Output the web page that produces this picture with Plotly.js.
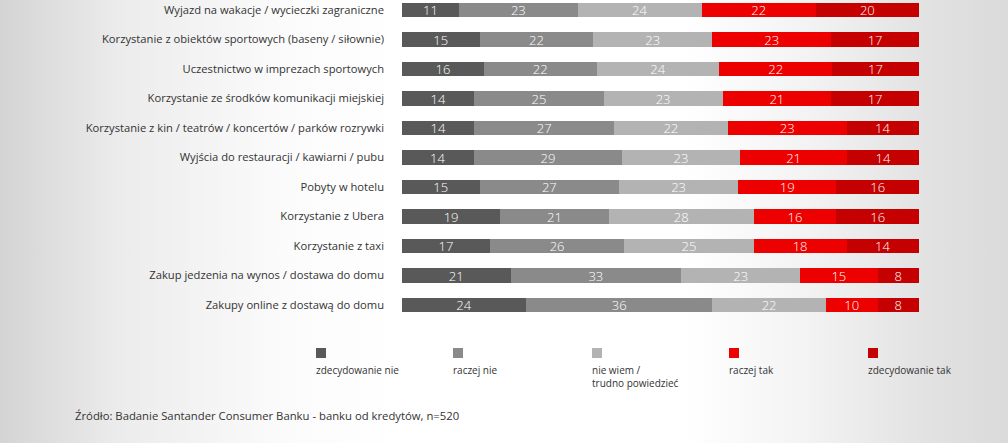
<!DOCTYPE html>
<html>
<head>
<meta charset="utf-8">
<script src="https://cdn.plot.ly/plotly-3.0.1.min.js"></script>
<style>
html,body{margin:0;padding:0;}
body{width:1008px;height:443px;overflow:hidden;
background:linear-gradient(to right,#d4d4d4 0%,#ececec 12%,#fbfbfb 28%,#ffffff 40%,#ffffff 68%,#f3f3f3 80%,#e2e2e2 92%,#dadada 100%);}
#chart{width:1008px;height:443px;}
</style>
</head>
<body>
<div id="chart"></div>
<script>
const categories = [
  "Wyjazd na wakacje / wycieczki zagraniczne",
  "Korzystanie z obiektów sportowych (baseny / siłownie)",
  "Uczestnictwo w imprezach sportowych",
  "Korzystanie ze środków komunikacji miejskiej",
  "Korzystanie z kin / teatrów / koncertów / parków rozrywki",
  "Wyjścia do restauracji / kawiarni / pubu",
  "Pobyty w hotelu",
  "Korzystanie z Ubera",
  "Korzystanie z taxi",
  "Zakup jedzenia na wynos / dostawa do domu",
  "Zakupy online z dostawą do domu"
];
const seriesNames = ["zdecydowanie nie", "raczej nie", "nie wiem /<br>trudno powiedzieć", "raczej tak", "zdecydowanie tak"];
const zdecydowanieNie = [11, 15, 16, 14, 14, 14, 15, 19, 17, 21, 24];
const raczejNie       = [23, 22, 22, 25, 27, 29, 27, 21, 26, 33, 36];
const nieWiem         = [24, 23, 24, 23, 22, 23, 23, 28, 25, 23, 22];
const raczejTak       = [22, 23, 22, 21, 23, 21, 19, 16, 18, 15, 10];
const zdecydowanieTak = [20, 17, 17, 17, 14, 14, 16, 16, 14, 8, 8];
const sourceNote = "Źródło: Badanie Santander Consumer Banku - banku od kredytów, n=520";

const seriesValues = [zdecydowanieNie, raczejNie, nieWiem, raczejTak, zdecydowanieTak];
const colors = ["#595959", "#8a8a8a", "#b3b3b3", "#ec0000", "#c40000"];
const FONT = "Open Sans, DejaVu Sans, sans-serif";

const traces = seriesValues.map((vals, i) => ({
  type: "bar",
  orientation: "h",
  name: seriesNames[i],
  y: categories,
  x: vals,
  text: vals.map(String),
  textposition: "inside",
  insidetextanchor: "middle",
  textangle: 0,
  constraintext: "none",
  cliponaxis: false,
  textfont: {color: "#ffffff", size: 13, family: FONT, weight: 300},
  marker: {color: colors[i], line: {width: 0}},
  hoverinfo: "x+y",
  showlegend: false
}));

const plotH = 320;
const py = p => (plotH - p) / plotH;
const legendX = [316, 453, 592, 729, 868];
const px = p => (p - 402) / (919 - 402);

const shapes = [];
const annotations = [];
seriesNames.forEach((n, i) => {
  shapes.push({
    type: "rect", xref: "paper", yref: "paper",
    x0: px(legendX[i]), x1: px(legendX[i] + 10),
    y0: py(358), y1: py(348),
    fillcolor: colors[i], line: {width: 0}
  });
  annotations.push({
    xref: "paper", yref: "paper",
    x: px(legendX[i] - 2), y: py(361),
    xanchor: "left", yanchor: "top", align: "left",
    text: n, showarrow: false,
    font: {size: 10, color: "#333333", family: FONT}
  });
});
annotations.push({
  xref: "paper", yref: "paper",
  x: px(73), y: py(415),
  xanchor: "left", yanchor: "middle",
  text: sourceNote, showarrow: false,
  font: {size: 11.3, color: "#333333", family: FONT}
});

const layout = {
  width: 1008, height: 443,
  margin: {l: 402, r: 89, t: 0, b: 123, pad: 0},
  paper_bgcolor: "rgba(0,0,0,0)",
  plot_bgcolor: "rgba(0,0,0,0)",
  barmode: "stack",
  barnorm: "percent",
  bargap: 0.5,
  uniformtext: {minsize: 13, mode: "show"},
  showlegend: false,
  font: {family: FONT, color: "#333333"},
  xaxis: {range: [0, 100], visible: false, fixedrange: true},
  yaxis: {
    type: "category",
    range: [10.508, -0.339],
    showgrid: false, zeroline: false, showline: false,
    ticks: "", ticklabelstandoff: 17,
    tickfont: {size: 11.2, color: "#333333", family: FONT},
    fixedrange: true
  },
  shapes: shapes,
  annotations: annotations
};

Plotly.newPlot("chart", traces, layout, {displayModeBar: false, staticPlot: true});
</script>
</body>
</html>
